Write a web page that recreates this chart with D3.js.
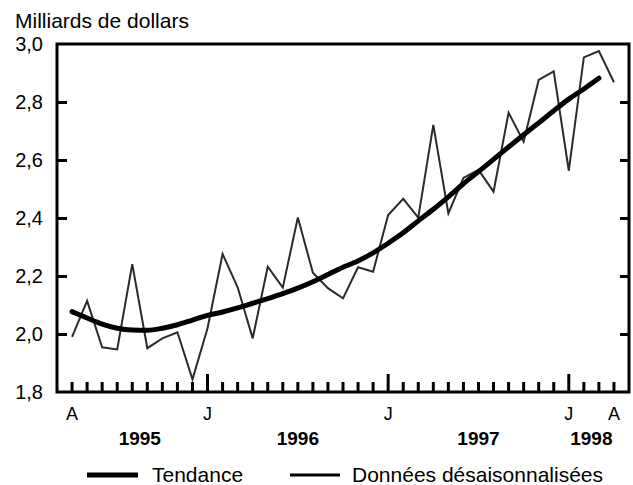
<!DOCTYPE html>
<html>
<head>
<meta charset="utf-8">
<script src="https://cdn.jsdelivr.net/npm/d3@7"></script>
<style>
  body { margin: 0; background: #fff; }
  text { font-family: "Liberation Sans", Arial, sans-serif; fill: #000; }
</style>
</head>
<body>
<div id="chart"></div>
<script>
// Months on the x axis (March 1995 .. May 1998, the frame edges are the outer months)
const months = [];
for (let yr = 1995; yr <= 1998; yr++) {
    for (let m = 1; m <= 12; m++) {
        const key = yr + "-" + ("0" + m).slice(-2);
        if (key >= "1995-03" && key <= "1998-05") months.push(key);
    }
}

// Seasonally adjusted data, April 1995 .. April 1998 (milliards de dollars)
const rawMonths = months.slice(1, 38);
const rawValues = [1.99, 2.114, 1.954, 1.947, 2.241, 1.951, 1.985, 2.006, 1.844,
    2.02, 2.276, 2.161, 1.985, 2.232, 2.16, 2.402, 2.211, 2.158, 2.123, 2.23, 2.215,
    2.41, 2.466, 2.401, 2.721, 2.416, 2.538, 2.566, 2.491, 2.763, 2.663, 2.876, 2.906,
    2.563, 2.954, 2.976, 2.868];

// Trend, April 1995 .. March 1998
const trendMonths = months.slice(1, 37);
const trendValues = [2.077, 2.055, 2.034, 2.02, 2.014, 2.013, 2.02, 2.032, 2.048,
    2.064, 2.076, 2.09, 2.106, 2.122, 2.139, 2.158, 2.18, 2.205, 2.23, 2.252, 2.28,
    2.313, 2.349, 2.39, 2.43, 2.473, 2.518, 2.56, 2.602, 2.645, 2.687, 2.728, 2.77,
    2.81, 2.845, 2.882];

const yTicks = [1.8, 2.0, 2.2, 2.4, 2.6, 2.8, 3.0];
const tickMonths = months.slice(1, 38);
const monthLabels = [["1995-04", "A"], ["1996-01", "J"], ["1997-01", "J"], ["1998-01", "J"], ["1998-04", "A"]];
const yearLabels = [["1995", "1995-04", "1996-01"], ["1996", "1996-01", "1997-01"],
    ["1997", "1997-01", "1998-01"], ["1998", "1998-01", "1998-04"]];

const W = 633, H = 485;
const plotLeft = 57, plotRight = 629, plotTop = 44, plotBottom = 392;

const svg = d3.select("#chart").append("svg")
    .attr("width", W)
    .attr("height", H);

const x = d3.scalePoint()
    .domain(months)
    .range([plotLeft, plotRight]);

const y = d3.scaleLinear()
    .domain([1.8, 3.0])
    .range([plotBottom, plotTop]);

// Title
svg.append("text")
    .attr("x", 15)
    .attr("y", 28)
    .style("font-size", "21px")
    .text("Milliards de dollars");

// Left axis with inward ticks
svg.append("g")
    .attr("transform", "translate(" + plotLeft + ",0)")
    .call(d3.axisRight(y).tickValues(yTicks.slice(1, -1)).tickSize(10).tickFormat(""))
    .call(g => g.select(".domain").remove())
    .selectAll("line").attr("stroke", "#000").attr("stroke-width", 3);

// Right axis with inward ticks
svg.append("g")
    .attr("transform", "translate(" + plotRight + ",0)")
    .call(d3.axisLeft(y).tickValues(yTicks.slice(1, -1)).tickSize(9).tickFormat(""))
    .call(g => g.select(".domain").remove())
    .selectAll("line").attr("stroke", "#000").attr("stroke-width", 3);

// Y tick labels
svg.append("g").selectAll("text")
    .data(yTicks)
    .join("text")
    .attr("x", 43)
    .attr("y", d => y(d))
    .attr("dy", "0.36em")
    .attr("text-anchor", "end")
    .style("font-size", "20px")
    .text(d => d3.format(".1f")(d).replace(".", ","));

// Bottom ticks (months), longer for January
svg.append("g").selectAll("line")
    .data(tickMonths)
    .join("line")
    .attr("x1", d => x(d))
    .attr("x2", d => x(d))
    .attr("y1", plotBottom)
    .attr("y2", d => d.endsWith("-01") ? plotBottom - 18 : plotBottom - 10)
    .attr("stroke", "#000")
    .attr("stroke-width", 3);

// Frame
svg.append("rect")
    .attr("x", plotLeft)
    .attr("y", plotTop)
    .attr("width", plotRight - plotLeft)
    .attr("height", plotBottom - plotTop)
    .attr("fill", "none")
    .attr("stroke", "#000")
    .attr("stroke-width", 3);

// Month letters
svg.append("g").selectAll("text")
    .data(monthLabels)
    .join("text")
    .attr("x", d => x(d[0]))
    .attr("y", 420)
    .attr("text-anchor", "middle")
    .style("font-size", "18px")
    .text(d => d[1]);

// Years
svg.append("g").selectAll("text")
    .data(yearLabels)
    .join("text")
    .attr("x", d => (x(d[1]) + x(d[2])) / 2)
    .attr("y", 445)
    .attr("text-anchor", "middle")
    .style("font-size", "19px")
    .style("font-weight", "bold")
    .text(d => d[0]);

const line = d3.line()
    .x(d => x(d[0]))
    .y(d => y(d[1]));

// Seasonally adjusted line
svg.append("path")
    .datum(d3.zip(rawMonths, rawValues))
    .attr("fill", "none")
    .attr("stroke", "#2b2b2b")
    .attr("stroke-width", 2)
    .attr("d", line);

// Trend line
svg.append("path")
    .datum(d3.zip(trendMonths, trendValues))
    .attr("fill", "none")
    .attr("stroke", "#000")
    .attr("stroke-width", 5)
    .attr("stroke-linecap", "round")
    .attr("d", line.curve(d3.curveMonotoneX));

// Legend
const legend = svg.append("g");
legend.append("line")
    .attr("x1", 87).attr("x2", 138)
    .attr("y1", 475).attr("y2", 475)
    .attr("stroke", "#000").attr("stroke-width", 5);
legend.append("text")
    .attr("x", 152).attr("y", 482)
    .style("font-size", "21px")
    .text("Tendance");
legend.append("line")
    .attr("x1", 290).attr("x2", 340)
    .attr("y1", 475).attr("y2", 475)
    .attr("stroke", "#000").attr("stroke-width", 3);
legend.append("text")
    .attr("x", 352).attr("y", 482)
    .style("font-size", "21px")
    .text("Données désaisonnalisées");
</script>
</body>
</html>
